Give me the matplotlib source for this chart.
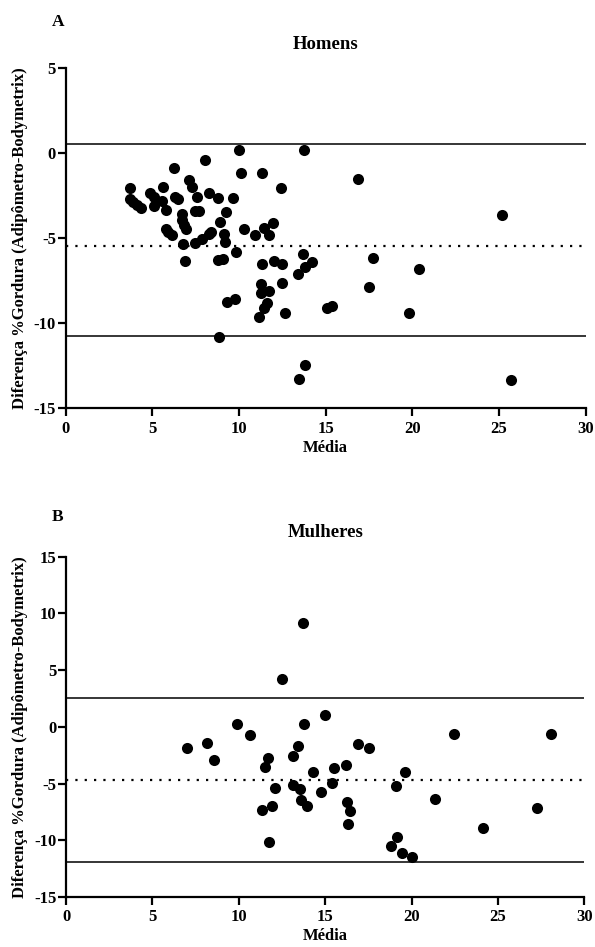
import matplotlib
matplotlib.use("Agg")
import matplotlib.pyplot as plt
import numpy as np

# Bland-Altman data
homens_media = [
    3.72, 3.72, 3.91, 4.10, 4.35, 4.84, 5.07, 5.11, 5.61, 5.55,
    5.80, 6.22, 6.32, 6.47, 5.80, 5.93, 6.12, 6.71, 6.71, 6.84,
    6.94, 6.78, 6.90, 7.09, 7.28, 7.57, 7.48, 7.67, 7.44, 7.86,
    8.29, 8.40, 8.02, 8.25, 8.77, 9.25, 8.88, 9.11, 9.21, 8.77,
    9.08, 9.67, 9.81, 9.29, 9.79, 8.82, 9.98, 10.13, 10.27, 10.94,
    11.33, 11.46, 11.71, 11.95, 11.33, 11.99, 12.45, 12.41, 11.29, 11.29,
    11.71, 11.60, 11.43, 11.18, 12.45, 12.68, 13.42, 13.75, 13.71, 14.19,
    13.81, 16.88, 25.15, 17.71, 20.38, 17.52, 15.06, 15.38, 19.81, 13.81,
    13.48, 25.67,
]
homens_dif = [
    -2.06, -2.69, -2.84, -3.04, -3.20, -2.35, -2.55, -3.10, -2.00, -2.78,
    -3.33, -0.84, -2.55, -2.71, -4.47, -4.61, -4.82, -3.57, -3.92, -4.22,
    -4.45, -5.35, -6.31, -1.57, -1.96, -2.55, -3.37, -3.37, -5.29, -5.06,
    -4.75, -4.61, -0.39, -2.35, -2.65, -3.45, -4.02, -4.75, -5.24, -6.27,
    -6.22, -2.65, -5.82, -8.73, -8.55, -10.82, 0.20, -1.14, -4.43, -4.82,
    -1.18, -4.37, -4.82, -4.08, -6.51, -6.31, -6.53, -2.06, -7.69, -8.24,
    -8.08, -8.78, -9.12, -9.65, -7.65, -9.37, -7.10, 0.20, -5.92, -6.41,
    -6.67, -1.53, -3.65, -6.14, -6.82, -7.84, -9.11, -8.96, -9.41, -12.43,
    -13.29, -13.33,
]
homens_bias = -5.45
homens_lim_sup = 0.55
homens_lim_inf = -10.73

mulheres_media = [
    13.69, 12.49, 9.88, 10.66, 6.99, 8.15, 8.59, 13.76, 13.42, 13.11,
    11.68, 11.49, 14.29, 12.10, 13.11, 13.55, 13.61, 13.94, 11.33, 11.91,
    11.72, 14.75, 15.00, 16.90, 17.53, 22.45, 28.09, 15.54, 16.22, 19.62,
    15.41, 19.10, 16.28, 16.41, 16.35, 21.34, 27.24, 24.11, 19.16, 18.79,
    19.47, 20.01,
]
mulheres_dif = [
    9.18, 4.26, 0.26, -0.68, -1.85, -1.41, -2.94, 0.21, -1.71, -2.53,
    -2.76, -3.53, -3.94, -5.38, -5.15, -5.47, -6.47, -7.00, -7.29, -7.00,
    -10.18, -5.76, 1.03, -1.47, -1.88, -0.59, -0.59, -3.62, -3.38, -3.94,
    -4.97, -5.18, -6.59, -7.38, -8.53, -6.35, -7.15, -8.94, -9.74, -10.50,
    -11.09, -11.50,
]
mulheres_bias = -4.65
mulheres_lim_sup = 2.56
mulheres_lim_inf = -11.91

x_ticks = [0, 5, 10, 15, 20, 25, 30]
homens_yticks = [-15, -10, -5, 0, 5]
mulheres_yticks = [-15, -10, -5, 0, 5, 10, 15]

plt.rcParams["font.family"] = ["Liberation Serif", "DejaVu Serif"]
plt.rcParams["font.weight"] = "bold"
plt.rcParams["axes.unicode_minus"] = False

YLABEL = "Diferença %Gordura (Adipômetro-Bodymetrix)"


def _draw_panel(ax, media, dif, bias, lim_sup, lim_inf, yticks, title):
    ax.plot(media, dif, "o", color="black", markersize=8,
            markeredgewidth=0, clip_on=False, zorder=3)
    ax.axhline(lim_sup, color="black", lw=1.1)
    ax.axhline(lim_inf, color="black", lw=1.1)
    ax.axhline(bias, color="black", lw=1.6, linestyle=(0, (1, 3.2)))

    ax.set_xlim(0, 30)
    ax.set_ylim(yticks[0], yticks[-1])
    ax.set_xticks(x_ticks)
    ax.set_yticks(yticks)
    for side in ("top", "right"):
        ax.spines[side].set_visible(False)
    for side in ("left", "bottom"):
        ax.spines[side].set_linewidth(1.6)
    ax.tick_params(width=1.6, length=6, labelsize=12)
    ax.tick_params(axis="x", pad=3)
    ax.tick_params(axis="y", pad=1)
    for lab in ax.get_xticklabels() + ax.get_yticklabels():
        lab.set_fontweight("bold")

    ax.set_title(title, fontsize=13.5, fontweight="bold", pad=14)
    ax.set_xlabel("Média", fontsize=12, fontweight="bold", labelpad=2)
    ax.set_ylabel(YLABEL, fontsize=12, fontweight="bold", labelpad=4)


fig = plt.figure(figsize=(5.95, 9.47), dpi=100)
fig.set_facecolor("white")

ax_h = fig.add_axes([0.1104, 0.5688, 0.874, 0.359])
ax_m = fig.add_axes([0.1110, 0.0528, 0.871, 0.3593])

_draw_panel(ax_h, homens_media, homens_dif, homens_bias,
            homens_lim_sup, homens_lim_inf, homens_yticks, "Homens")
_draw_panel(ax_m, mulheres_media, mulheres_dif, mulheres_bias,
            mulheres_lim_sup, mulheres_lim_inf, mulheres_yticks, "Mulheres")

fig.text(58 / 595, 1 - 22 / 947, "A", fontsize=12.5, fontweight="bold",
         ha="center", va="center")
fig.text(58 / 595, 1 - 517 / 947, "B", fontsize=12.5, fontweight="bold",
         ha="center", va="center")

fig.savefig("out.png", dpi=100, facecolor="white")
plt.close(fig)
